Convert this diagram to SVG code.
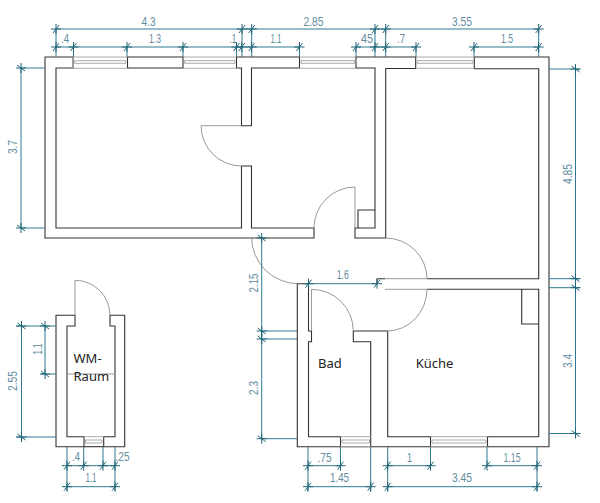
<svg xmlns="http://www.w3.org/2000/svg" width="600" height="503" viewBox="0 0 600 503">
<style>
.w{fill:none;stroke:#333;stroke-width:1.1}
.g{fill:none;stroke:#999;stroke-width:1}
.win{fill:none;stroke:#aaa;stroke-width:1}
.d{fill:none;stroke:#2f7a92;stroke-width:1}
.t{fill:none;stroke:#1f6478;stroke-width:1}
text{font-family:"Liberation Sans",sans-serif;font-size:13.5px;fill:#5f8d9e;text-anchor:middle}
.r{font-family:"Noto Sans",sans-serif;font-size:13px;fill:#222;text-anchor:start}
</style>
<defs>
<g id="h" class="t"><path d="M-5 0H5M0-5V5M-3 4L3-4"/></g>
<g id="v" class="t"><path d="M-5 0H5M0-5V5M-4-3L4 3"/></g>
</defs>
<rect width="600" height="503" fill="#fff"/>

<g id="main-walls">
<path class="w" d="M73 57H45V238H314V228H251.500V166H241.500V228H56V68H73ZM241.500 125.700V68H236.500V57H299.500V68H251.500V125.700ZM127.500 57H183V68H127.500ZM356 57H415.700V68.500H385.700V238H355V228H375V68H356ZM474.300 57H549V446.700H297.300V283.700H308.500V331H311.500V341.700H308.500V436.700H340.500V446.700M370.700 446.700V341.700H353.300V331H387.700V436.700H430.500V446.700M487.500 446.700V436.700H538.700V289.300H427M427 278.700H538.700V68.800H474.300V57M358 228V210H375M521.700 289.300V324H538.700"/>
<path class="w" d="M377 278.700H385M377 278.700V283"/>
</g>

<g id="wm-walls">
<path class="w" d="M84 446.700H56V315.300H75V326H67V436.700H84ZM103.700 446.700V436.700H115V326H110V315.300H124.700V446.700Z"/>
<path class="w" d="M84 446.700H103.700"/>
<path class="g" d="M67 374H115"/>
</g>

<g id="doors">
<path class="g" d="M241.500 125.700H201A40.500 40.500 0 0 0 241.500 166"/>
<path class="g" d="M314 228A41 41 0 0 1 355 187V228"/>
<path class="g" d="M385.500 238A41.500 41 0 0 1 427 278.700H385"/>
<path class="g" d="M427 289.300H385M427 289.300A40 42 0 0 1 387 331"/>
<path class="g" d="M311.500 331V289.300A41.800 41.700 0 0 1 353.300 331"/>
<path class="g" d="M75 315.300V280.300A35 35 0 0 1 110 315.300"/>
<path class="g" d="M251.500 238A47 47 0 0 0 297.300 283.700"/>
</g>

<g id="windows" class="win">
<path d="M73 57H127.500M73 68.300H127.500M74.500 60.700H126M74.500 63.300H126M73 57V68M126 60.700V63.300M74.500 60.700V63.300"/>
<path d="M183 57H236.500M183 68.300H236.500M184.500 60.700H235M184.500 63.300H235M235 60.700V63.300M184.500 60.700V63.300"/>
<path d="M299.500 57H356M299.500 68.300H356M301 60.700H354.500M301 63.300H354.500M354.500 60.700V63.300M301 60.700V63.300"/>
<path d="M415.700 57H474.300M415.700 68.300H474.300M417 60.700H473M417 63.300H473M473 60.700V63.300M417 60.700V63.300"/>
<path d="M340.500 436.700H370.700M340.500 446.700H370.700M342 440H369.500M342 443H369.500M342 440V443M369.500 440V443"/>
<path d="M430.500 436.700H487.500M430.500 446.700H487.500M432 440H486M432 443H486M432 440V443M486 440V443"/>
<path d="M84 436.700H103.700M85.500 440H102M85.500 443H102M85.500 440V443M102 440V443"/>
</g>

<g id="dimension-lines" class="d">
<path d="M56 29H538.700M56 47H299.500M356 47H416M474 47H538.700M56 29V57M242 29V57M251.700 29V57M375 29V57M385.700 29V57M538.700 29V57M73.500 47V57M127 47V57M183 47V57M236.500 47V57M299.500 47V57M356 47V57M416 47V57M474 47V57"/>
<path d="M21 68V228M21 68H45M21 228H45"/>
<path d="M575.500 69V434M549 69H580M549 278.700H580M549 287.700H580M549 433.500H580"/>
<path d="M261.700 238V438.700M261.700 331H297.300M261.700 339H297.300M261.700 438.700H297.300"/>
<path d="M308.500 283.700H377"/>
<path d="M308 465.700H340.500M387.700 465.700H430.500M487 465.700H537M308 486.700H370.700M387.700 486.700H537M308 446.700V491M340.500 446.700V466M370.700 446.700V491M387.700 446.700V491M430.500 446.700V466M487 446.700V466M537 446.700V491"/>
<path d="M21.500 326V437M16 326H56M16 437H56M45 326V374M41 374H56"/>
<path d="M67 465.700H115M67 486.700H115M67 446.700V491M83.700 446.700V466M103 446.700V466M115 446.700V491"/>
</g>

<g id="ticks">
<use href="#h" x="56" y="29"/><use href="#h" x="242" y="29"/><use href="#h" x="251.700" y="29"/><use href="#h" x="375" y="29"/><use href="#h" x="385.700" y="29"/><use href="#h" x="538.700" y="29"/>
<use href="#h" x="56" y="47"/><use href="#h" x="73.500" y="47"/><use href="#h" x="127" y="47"/><use href="#h" x="183" y="47"/><use href="#h" x="236.500" y="47"/><use href="#h" x="241.700" y="47"/><use href="#h" x="251.700" y="47"/><use href="#h" x="299.500" y="47"/><use href="#h" x="356" y="47"/><use href="#h" x="375" y="47"/><use href="#h" x="385.700" y="47"/><use href="#h" x="416" y="47"/><use href="#h" x="474" y="47"/><use href="#h" x="538.700" y="47"/>
<use href="#v" x="21" y="68"/><use href="#v" x="21" y="228"/>
<use href="#v" x="575.500" y="69"/><use href="#v" x="575.500" y="278.700"/><use href="#v" x="575.500" y="287.700"/><use href="#v" x="575.500" y="433.500"/>
<use href="#v" x="261.700" y="238"/><use href="#v" x="261.700" y="331"/><use href="#v" x="261.700" y="339"/><use href="#v" x="261.700" y="438.700"/>
<use href="#h" x="308.500" y="283.700"/><use href="#h" x="377" y="283.700"/>
<use href="#h" x="308" y="465.700"/><use href="#h" x="340.500" y="465.700"/><use href="#h" x="387.700" y="465.700"/><use href="#h" x="430.500" y="465.700"/><use href="#h" x="487" y="465.700"/><use href="#h" x="537" y="465.700"/>
<use href="#h" x="308" y="486.700"/><use href="#h" x="370.700" y="486.700"/><use href="#h" x="387.700" y="486.700"/><use href="#h" x="537" y="486.700"/>
<use href="#v" x="21.500" y="326"/><use href="#v" x="21.500" y="437"/><use href="#v" x="45" y="326"/><use href="#v" x="45" y="374"/>
<use href="#h" x="67" y="465.700"/><use href="#h" x="83.700" y="465.700"/><use href="#h" x="103" y="465.700"/><use href="#h" x="115" y="465.700"/><use href="#h" x="67" y="486.700"/><use href="#h" x="115" y="486.700"/>
</g>

<g id="dimension-labels">
<text x="148.500" y="26" textLength="14" lengthAdjust="spacingAndGlyphs">4.3</text><text x="313.500" y="26" textLength="20" lengthAdjust="spacingAndGlyphs">2.85</text><text x="462" y="26" textLength="20" lengthAdjust="spacingAndGlyphs">3.55</text>
<text x="65" y="43" textLength="8" lengthAdjust="spacingAndGlyphs">.4</text><text x="155" y="43" textLength="12" lengthAdjust="spacingAndGlyphs">1.3</text><text x="233" y="43" textLength="7" lengthAdjust="spacingAndGlyphs">.1</text><text x="276" y="43" textLength="11" lengthAdjust="spacingAndGlyphs">1.1</text><text x="367" y="43" textLength="12" lengthAdjust="spacingAndGlyphs">45</text><text x="401" y="43" textLength="8" lengthAdjust="spacingAndGlyphs">.7</text><text x="507" y="43" textLength="12" lengthAdjust="spacingAndGlyphs">1.5</text>
<text transform="translate(17 147) rotate(-90)" textLength="14" lengthAdjust="spacingAndGlyphs">3.7</text>
<text transform="translate(572 174) rotate(-90)" textLength="20" lengthAdjust="spacingAndGlyphs">4.85</text>
<text transform="translate(572 361) rotate(-90)" textLength="14" lengthAdjust="spacingAndGlyphs">3.4</text>
<text transform="translate(258 283) rotate(-90)" textLength="19" lengthAdjust="spacingAndGlyphs">2.15</text>
<text transform="translate(258 388) rotate(-90)" textLength="14" lengthAdjust="spacingAndGlyphs">2.3</text>
<text x="342.700" y="279.300" textLength="12" lengthAdjust="spacingAndGlyphs">1.6</text>
<text x="324.500" y="461.700" textLength="14" lengthAdjust="spacingAndGlyphs">.75</text><text x="339.500" y="482.300" textLength="19" lengthAdjust="spacingAndGlyphs">1.45</text><text x="409.500" y="461.700" textLength="5" lengthAdjust="spacingAndGlyphs">1</text><text x="512" y="461.700" textLength="17" lengthAdjust="spacingAndGlyphs">1.15</text><text x="462" y="482.300" textLength="20" lengthAdjust="spacingAndGlyphs">3.45</text>
<text x="76" y="461" textLength="8" lengthAdjust="spacingAndGlyphs">.4</text><text x="122.500" y="461" textLength="14" lengthAdjust="spacingAndGlyphs">.25</text><text x="91" y="482.300" textLength="11" lengthAdjust="spacingAndGlyphs">1.1</text>
<text transform="translate(17 381) rotate(-90)" textLength="20" lengthAdjust="spacingAndGlyphs">2.55</text>
<text transform="translate(42 349) rotate(-90)" textLength="11" lengthAdjust="spacingAndGlyphs">1.1</text>
</g>

<g id="room-labels">
<text class="r" x="73.500" y="362.700">WM-</text>
<text class="r" x="73.500" y="381">Raum</text>
<text class="r" x="318" y="367.700">Bad</text>
<text class="r" x="415.700" y="367.700">Küche</text>
</g>
</svg>
